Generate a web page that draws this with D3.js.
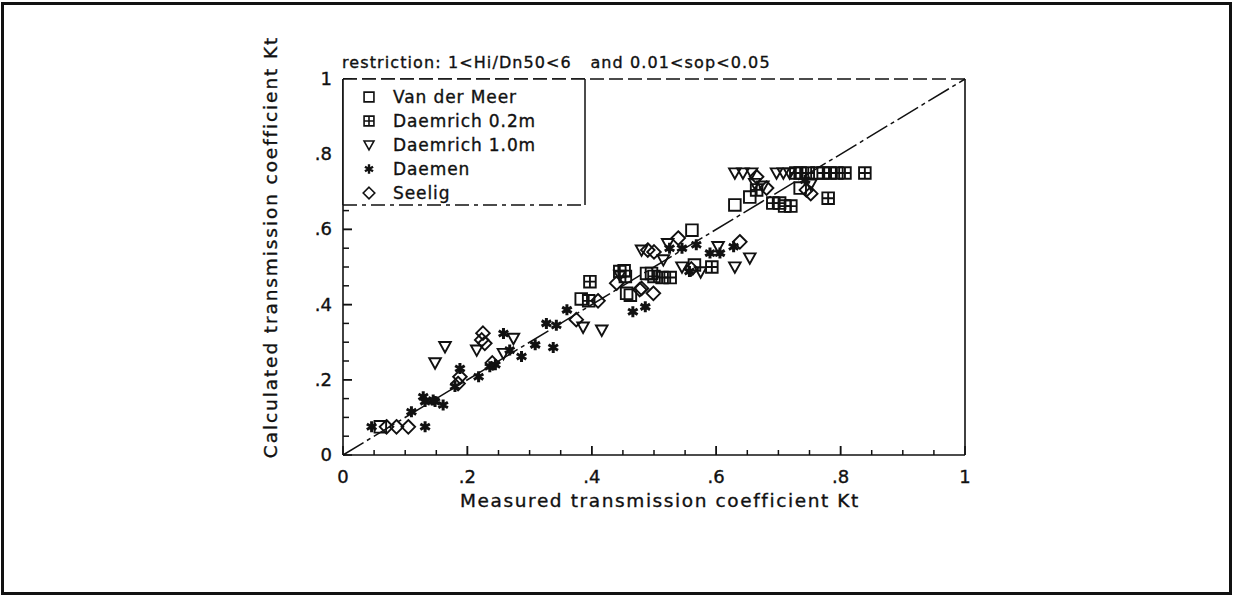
<!DOCTYPE html>
<html>
<head>
<meta charset="utf-8">
<script src="https://cdn.jsdelivr.net/npm/d3@7"></script>
<style>
  body { margin: 0; background: #fff; }
  text { font-family: "DejaVu Sans", sans-serif; fill: #111; stroke: #111; stroke-width: 0.35px; }
</style>
</head>
<body>
<script>
// measured Kt (x) against calculated Kt (y), one array per data set
const vanDerMeer = [
  [0.63, 0.665], [0.654, 0.686], [0.561, 0.598], [0.496, 0.483], [0.456, 0.43],
  [0.452, 0.49], [0.488, 0.483], [0.383, 0.415], [0.462, 0.425], [0.762, 0.75],
  [0.735, 0.71], [0.565, 0.505], [0.06, 0.075]
];
const daemrich02 = [
  [0.735, 0.75], [0.748, 0.75], [0.772, 0.75], [0.783, 0.75], [0.794, 0.75],
  [0.807, 0.75], [0.839, 0.75], [0.665, 0.705], [0.691, 0.67], [0.702, 0.67],
  [0.71, 0.662], [0.72, 0.662], [0.78, 0.683], [0.593, 0.5], [0.445, 0.488],
  [0.454, 0.475], [0.5, 0.475], [0.513, 0.472], [0.526, 0.472], [0.397, 0.461],
  [0.395, 0.41], [0.728, 0.75]
];
const daemrich10 = [
  [0.63, 0.75], [0.643, 0.75], [0.657, 0.75], [0.697, 0.75], [0.708, 0.75],
  [0.718, 0.75], [0.662, 0.722], [0.675, 0.715], [0.752, 0.72], [0.522, 0.562],
  [0.48, 0.545], [0.445, 0.478], [0.515, 0.519], [0.545, 0.5], [0.603, 0.554],
  [0.63, 0.5], [0.654, 0.524], [0.386, 0.34], [0.416, 0.332], [0.164, 0.288],
  [0.148, 0.245], [0.215, 0.279], [0.274, 0.31], [0.258, 0.27], [0.575, 0.487]
];
const daemen = [
  [0.743, 0.731], [0.525, 0.55], [0.545, 0.55], [0.568, 0.559], [0.557, 0.488],
  [0.59, 0.537], [0.606, 0.537], [0.628, 0.554], [0.36, 0.386], [0.327, 0.35],
  [0.343, 0.345], [0.466, 0.381], [0.486, 0.394], [0.258, 0.323], [0.268, 0.279],
  [0.309, 0.293], [0.338, 0.286], [0.287, 0.262], [0.218, 0.208], [0.188, 0.23],
  [0.18, 0.182], [0.129, 0.155], [0.145, 0.146], [0.046, 0.075], [0.132, 0.075],
  [0.11, 0.115], [0.132, 0.142], [0.148, 0.142], [0.161, 0.133], [0.245, 0.24],
  [0.236, 0.235]
];
const seelig = [
  [0.665, 0.74], [0.681, 0.71], [0.745, 0.705], [0.752, 0.695], [0.539, 0.577],
  [0.49, 0.545], [0.5, 0.54], [0.56, 0.495], [0.638, 0.567], [0.477, 0.44],
  [0.499, 0.43], [0.44, 0.457], [0.48, 0.443], [0.41, 0.41], [0.375, 0.36],
  [0.225, 0.324], [0.223, 0.306], [0.228, 0.297], [0.188, 0.208], [0.185, 0.19],
  [0.07, 0.075], [0.086, 0.075], [0.105, 0.075], [0.24, 0.245]
];

const legendNames = ["Van der Meer", "Daemrich 0.2m", "Daemrich 1.0m", "Daemen", "Seelig"];
const majorTicks = [0, 0.2, 0.4, 0.6, 0.8, 1];
const tickLabels = ["0", ".2", ".4", ".6", ".8", "1"];
const minorTicks = d3.range(0.05, 1, 0.05);

const w = 1237;
const h = 601;
const pLeft = 343, pRight = 965, pTop = 79, pBottom = 455;

const svg = d3.select("body").append("svg")
              .attr("width", w)
              .attr("height", h);

// outer frame of the figure
svg.append("rect")
   .attr("x", 2.5).attr("y", 3.5)
   .attr("width", 1228).attr("height", 590)
   .attr("fill", "none")
   .attr("stroke", "#111")
   .attr("stroke-width", 3);

const xScale = d3.scaleLinear().domain([0, 1]).range([pLeft, pRight]);
const yScale = d3.scaleLinear().domain([0, 1]).range([pBottom, pTop]);

// axes: solid left, bottom, right; dashed top
const frame = svg.append("g").attr("stroke", "#111").attr("stroke-width", 1.6).attr("fill", "none");
frame.append("line").attr("x1", pLeft).attr("y1", pTop).attr("x2", pLeft).attr("y2", pBottom);
frame.append("line").attr("x1", pLeft).attr("y1", pBottom).attr("x2", pRight).attr("y2", pBottom);
frame.append("line").attr("x1", pRight).attr("y1", pTop).attr("x2", pRight).attr("y2", pBottom);
frame.append("line").attr("x1", pLeft).attr("y1", pTop).attr("x2", pRight).attr("y2", pTop)
     .attr("stroke-dasharray", "14,5");

// inside ticks
const isMajor = d => majorTicks.some(m => Math.abs(m - d) < 1e-6);
const tickG = svg.append("g").attr("stroke", "#111").attr("stroke-width", 1.5);
tickG.selectAll(".xt").data(majorTicks.concat(minorTicks)).enter().append("line")
     .attr("x1", d => xScale(d)).attr("x2", d => xScale(d))
     .attr("y1", pBottom)
     .attr("y2", d => pBottom - (isMajor(d) ? 9 : 5));
tickG.selectAll(".yt").data(majorTicks.concat(minorTicks)).enter().append("line")
     .attr("y1", d => yScale(d)).attr("y2", d => yScale(d))
     .attr("x1", pLeft)
     .attr("x2", d => pLeft + (isMajor(d) ? 9 : 6));

svg.selectAll(".xl").data(majorTicks).enter().append("text")
   .attr("x", d => xScale(d))
   .attr("y", 483)
   .attr("text-anchor", "middle")
   .attr("font-size", 18)
   .text((d, i) => tickLabels[i]);
svg.selectAll(".yl").data(majorTicks).enter().append("text")
   .attr("x", 332)
   .attr("y", d => yScale(d) + 6)
   .attr("text-anchor", "end")
   .attr("font-size", 18)
   .text((d, i) => tickLabels[i]);

svg.append("text")
   .attr("x", (pLeft + pRight) / 2 + 6)
   .attr("y", 507)
   .attr("text-anchor", "middle")
   .attr("font-size", 18.5)
   .attr("letter-spacing", 1.6)
   .text("Measured transmission coefficient Kt");
svg.append("text")
   .attr("transform", "translate(277, 247) rotate(-90)")
   .attr("text-anchor", "middle")
   .attr("font-size", 18.5)
   .attr("letter-spacing", 1.9)
   .text("Calculated transmission coefficient Kt");

svg.append("text")
   .attr("x", 342)
   .attr("y", 68)
   .attr("font-size", 16)
   .attr("letter-spacing", 1.1)
   .attr("xml:space", "preserve")
   .text("restriction: 1<Hi/Dn50<6   and 0.01<sop<0.05");

// line of perfect agreement
svg.append("line")
   .attr("x1", xScale(0)).attr("y1", yScale(0))
   .attr("x2", xScale(1)).attr("y2", yScale(1))
   .attr("stroke", "#111")
   .attr("stroke-width", 1.5)
   .attr("stroke-dasharray", "24,4,4,4");

// marker shapes
const s = 5.8;
const shapes = [
  `M${-s},${-s}H${s}V${s}H${-s}Z`,
  `M${-s},${-s}H${s}V${s}H${-s}ZM0,${-s}V${s}M${-s},0H${s}`,
  `M${-s},${-s * 0.8}H${s}L0,${s}Z`,
  d3.symbol(d3.symbolAsterisk, 85)(),
  `M0,${-s - 1}L${s + 1},0L0,${s + 1}L${-s - 1},0Z`
];
const seriesList = [vanDerMeer, daemrich02, daemrich10, daemen, seelig];

seriesList.forEach((series, k) => {
  svg.append("g").selectAll("path")
     .data(series)
     .enter()
     .append("path")
     .attr("transform", d => "translate(" + xScale(d[0]) + "," + yScale(d[1]) + ")")
     .attr("d", shapes[k])
     .attr("fill", k === 3 ? "#111" : "none")
     .attr("stroke", "#111")
     .attr("stroke-width", k === 3 ? 3 : 1.9);
});

// legend box, sharing the axis at left and the dashed top line
const legRight = 585, legBottom = 205;
svg.append("rect")
   .attr("x", pLeft).attr("y", pTop)
   .attr("width", legRight - pLeft).attr("height", legBottom - pTop)
   .attr("fill", "#fff");
svg.append("line")
   .attr("x1", legRight).attr("y1", pTop).attr("x2", legRight).attr("y2", legBottom)
   .attr("stroke", "#111").attr("stroke-width", 1.5);
svg.append("line")
   .attr("x1", pLeft).attr("y1", legBottom).attr("x2", legRight).attr("y2", legBottom)
   .attr("stroke", "#111").attr("stroke-width", 1.5)
   .attr("stroke-dasharray", "14,5,4,5");
svg.append("line")
   .attr("x1", pLeft).attr("y1", pTop).attr("x2", legRight).attr("y2", pTop)
   .attr("stroke", "#111").attr("stroke-width", 1.6)
   .attr("stroke-dasharray", "14,5");
svg.append("line")
   .attr("x1", pLeft).attr("y1", pTop).attr("x2", pLeft).attr("y2", legBottom)
   .attr("stroke", "#111").attr("stroke-width", 1.6);

const legend = svg.append("g");
legendNames.forEach((name, i) => {
  const y = 97 + i * 24;
  legend.append("path")
        .attr("transform", "translate(369," + y + ") scale(0.85)")
        .attr("d", shapes[i])
        .attr("fill", i === 3 ? "#111" : "none")
        .attr("stroke", "#111")
        .attr("stroke-width", i === 3 ? 2.8 : 1.9);
  legend.append("text")
        .attr("x", 393)
        .attr("y", y + 6)
        .attr("font-size", 17)
        .attr("letter-spacing", 0.9)
        .text(name);
});
</script>
</body>
</html>
